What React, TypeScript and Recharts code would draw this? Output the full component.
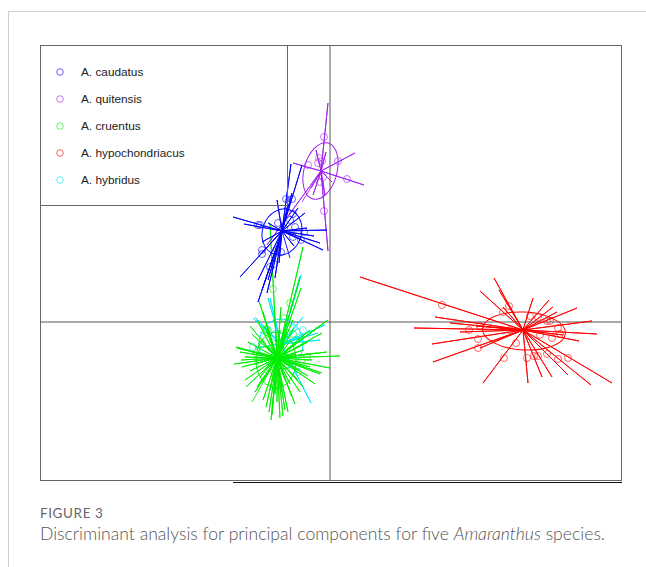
import { ReferenceLine, Scatter, ScatterChart, XAxis, YAxis } from "recharts"

type Pt = [number, number]

// plot window, in discriminant-function units
const X_MIN = -29
const X_MAX = 29.1
const Y_MIN = -15.8
const Y_MAX = 27.7
const PLOT_W = 581
const PLOT_H = 435
const PX_X = PLOT_W / (X_MAX - X_MIN)
const PX_Y = PLOT_H / (Y_MAX - Y_MIN)

const species = ["A. caudatus", "A. quitensis", "A. cruentus", "A. hypochondriacus", "A. hybridus"]
const colors = ["#0000ff", "#a020f0", "#00ee00", "#ff0000", "#00e5ff"]

// group centres
const blueCentre: Pt = [-4.8, 9.1]
const purpleCentre: Pt = [-0.9, 15.1]
const greenCentre: Pt = [-5.3, -3.6]
const redCentre: Pt = [19.3, -0.8]
const cyanCentre: Pt = [-4.9, -2.2]

// ellipses: [x, y, rx, ry, angle]
const blueEllipse = [-4.8, 9.0, 1.95, 2.35, 20]
const purpleEllipse = [-0.95, 15.1, 1.65, 2.9, 15]
const greenEllipse = [-5.4, -3.8, 2.0, 2.8, 0]
const redEllipse = [19.4, -0.9, 4.15, 1.9, 3]
const cyanEllipse = [-4.9, -2.2, 2.2, 2.5, 0]

const blueRays: Pt[] = [
  [-3.9, 15.8], [-2.8, 15.7], [-9.7, 10.5], [-1.0, 7.9], [-0.3, 9.2], [-9.0, 4.5], [-6.8, 3.2],
  [-5.1, 5.9], [-7.2, 6.5], [-0.7, 7.2], [-5.3, 12.2], [-3.8, 12.9], [-7.2, 4.2], [-6.2, 4.2],
  [-5.5, 4.4], [-2.3, 9.4], [-2.5, 10.9], [-3.2, 11.4], [-6.8, 8.0], [-6.2, 9.9], [-2.8, 8.2],
  [-7.2, 2.0], [-6.3, 2.9], [-8.6, 9.8], [-1.6, 8.6], [-4.2, 11.8], [-3.6, 7.6], [-4.0, 6.4],
]
const blueDots: Pt[] = [
  [-7.2, 9.7], [-7.0, 9.7], [-3.7, 10.8], [-3.5, 9.5], [-2.6, 9.0], [-2.9, 8.2], [-3.7, 8.5],
  [-5.2, 9.9], [-6.8, 7.2], [-5.3, 7.2], [-4.9, 7.0], [-6.0, 5.5], [-5.6, 5.8], [-6.8, 6.8],
  [-4.4, 12.3], [-3.8, 12.3], [-4.6, 9.4], [-4.0, 10.2],
]

const purpleRays: Pt[] = [
  [-0.2, 21.9], [2.5, 16.9], [3.4, 13.7], [-3.7, 15.9], [-0.2, 7.1], [-6.3, 7.7], [-1.7, 12.7],
  [-0.5, 12.7], [-1.4, 17.2], [-0.4, 17.0], [-1.9, 13.4], [0.2, 14.0], [-2.8, 12.0],
]
const purpleDots: Pt[] = [
  [-0.6, 18.5], [0.8, 16.1], [1.7, 14.3], [-2.2, 15.7], [-0.6, 11.1], [-1.1, 16.4], [-0.8, 16.1],
  [-1.0, 14.0], [-1.2, 15.9], [-0.7, 14.5],
]

const greenRays: Pt[] = [
  [-2.7, 7.5], [-6.0, 9.9], [-6.7, 1.0], [-2.9, 3.4], [-0.2, 0.2], [-0.5, 0.0], [-9.3, -2.6],
  [1.0, -3.4], [0.0, -4.6], [-0.8, -5.1], [-8.8, -4.5], [-8.5, -5.8], [-7.3, -6.5], [-6.7, -7.8],
  [-5.8, -9.3], [-5.0, -9.6], [-4.5, -8.8], [-3.8, -7.5], [-2.7, -6.5], [-1.3, -3.1], [-0.8, -1.1],
  [-1.2, -0.5], [-8.5, -3.5], [-7.3, 0.2], [-5.5, 0.2], [-3.7, 0.2], [-3.0, 4.5], [-7.1, 2.1],
  [-9.4, -2.5], [-1.0, -5.2], [-7.8, -1.2], [-6.5, -0.5], [-4.3, -1.0], [-2.2, -2.0], [-8.0, -4.9],
  [-7.0, -5.5], [-6.0, -6.8], [-5.3, -8.0], [-4.8, -7.0], [-4.0, -6.2], [-3.2, -5.8], [-2.0, -4.5],
  [-1.8, -3.8], [-6.2, -2.4], [-4.6, -2.2], [-5.9, -9.8], [-5.1, -5.4], [-8.9, -3.8], [-6.9, -1.8],
  [-3.6, -0.6], [-2.5, -1.2], [-4.9, 1.5], [-6.3, -0.6], [-3.4, -3.2], [-7.5, -7.0], [-4.2, -9.0],
  [-6.4, -8.5], [-2.2, -5.4], [-9.0, -3.0], [-8.2, -2.0], [-7.6, -4.2], [-6.8, -6.0], [-5.5, -7.2],
  [-4.5, -5.8], [-3.0, -4.8], [-2.6, -2.8], [-3.9, -1.8], [-5.0, -0.8], [-6.0, -1.5], [-7.2, -3.0],
  [-8.4, -6.5], [-6.1, -9.0], [-4.7, -9.4], [-3.5, -8.2], [-1.5, -6.2], [-0.3, -3.0], [-9.6, -4.2],
  [-8.0, -0.4], [-4.4, -0.2], [-2.0, -0.8], [-6.6, -4.8], [-4.1, -3.3], [-5.8, -2.6], [-3.0, -7.0],
  [-7.8, -8.0],
]
const greenDots: Pt[] = [
  [-5.7, 3.3], [-4.0, 1.9], [-2.3, -3.5], [-2.8, -4.1], [-6.4, -0.7], [-4.6, 0.4], [-7.4, -3.1],
  [-6.3, -0.8], [-5.0, -2.0], [-3.7, -1.2], [-5.6, -5.0], [-6.8, -2.2], [-4.3, -4.4], [-5.2, -6.4],
]

const redRays: Pt[] = [
  [3.0, 4.5], [16.4, 4.4], [15.0, 3.1], [20.3, 2.4], [21.9, 2.2], [22.3, 1.5], [24.7, 1.4],
  [26.2, 0.1], [26.7, -1.2], [24.9, -1.9], [10.5, 0.5], [8.4, -0.6], [10.2, -2.2], [10.3, -4.0],
  [15.3, -6.1], [19.8, -6.1], [21.2, -5.5], [22.2, -5.5], [23.8, -5.3], [26.1, -6.3], [28.2, -6.1],
  [22.7, 1.0], [17.3, 1.5], [12.0, -0.1], [23.3, -1.3], [13.0, -1.0], [16.9, 3.2], [15.0, -2.6],
  [14.6, -0.4], [16.0, -2.0],
]
const redDots: Pt[] = [
  [11.2, 1.7], [17.9, 1.6], [17.3, 1.0], [15.0, -0.4], [13.9, -0.8], [14.8, -1.7], [14.8, -2.6],
  [17.4, -3.6], [18.6, -2.1], [19.7, -3.6], [20.4, -3.4], [20.8, -3.4], [21.7, -3.2], [22.8, -3.7],
  [23.8, -3.6], [22.2, -1.6], [23.0, -1.2], [22.0, 0.1], [21.7, 0.1], [20.0, 0.6], [20.8, 0.5],
  [22.8, -0.6], [21.0, -1.3], [18.0, -0.8],
]

const cyanRays: Pt[] = [
  [-3.0, 4.5], [-6.0, 2.4], [-0.5, -0.3], [-1.9, -8.1], [-7.5, -2.6], [-7.7, 0.4], [-1.0, -1.8],
  [-3.3, -5.1], [-2.9, 4.7], [-6.2, 2.4], [-7.5, 0.5], [-2.7, 0.5], [-3.2, -0.6], [-2.9, -1.5],
  [-1.2, -1.1], [-6.5, -4.0], [-5.6, -6.0], [-4.0, -4.2], [-7.0, -1.0],
]
const cyanDots: Pt[] = [
  [-2.7, -0.8], [-3.0, -1.5], [-3.5, -1.8], [-3.2, -5.0], [-6.2, -0.8], [-7.7, -2.5], [-4.0, -0.5],
  [-5.5, -1.2],
]

const toXY = (p: Pt) => ({ x: p[0], y: p[1] })
// centre, ray, centre, ray ... so a joint line draws a star
const star = (c: Pt, rays: Pt[]) => rays.flatMap((r) => [toXY(c), toXY(r)])

const groups = [
  { c: cyanCentre, rays: cyanRays, dots: cyanDots, ell: cyanEllipse, color: colors[4] },
  { c: greenCentre, rays: greenRays, dots: greenDots, ell: greenEllipse, color: colors[2] },
  { c: purpleCentre, rays: purpleRays, dots: purpleDots, ell: purpleEllipse, color: colors[1] },
  { c: blueCentre, rays: blueRays, dots: blueDots, ell: blueEllipse, color: colors[0] },
  { c: redCentre, rays: redRays, dots: redDots, ell: redEllipse, color: colors[3] },
]

const Nothing = () => <g />

export default function App() {
  return (
    <div style={{ position: "absolute", left: 0, top: 0, width: 646, height: 567, overflow: "hidden", background: "#fff" }}>
      <div style={{ position: "absolute", left: 8, top: 11, width: 700, height: 600, borderLeft: "1px solid #cfcfcf", borderTop: "1px solid #cfcfcf" }} />

      <div style={{ position: "absolute", left: 0, top: 0 }}>
        <ScatterChart width={646} height={500} margin={{ top: 45, left: 40, right: 25, bottom: 20 }}>
          <XAxis type="number" dataKey="x" domain={[X_MIN, X_MAX]} allowDataOverflow hide />
          <YAxis type="number" dataKey="y" domain={[Y_MIN, Y_MAX]} allowDataOverflow hide />
          <ReferenceLine x={0} stroke="#555" strokeWidth={1} />
          <ReferenceLine y={0} stroke="#555" strokeWidth={1} />
          {groups.map((g, i) => [
            <Scatter
              key={"r" + i}
              data={star(g.c, g.rays)}
              line={{ stroke: g.color, strokeWidth: 1, strokeOpacity: 0.9 }}
              lineType="joint"
              shape={Nothing}
              isAnimationActive={false}
            />,
            <Scatter
              key={"e" + i}
              data={[{ x: g.ell[0], y: g.ell[1], rx: g.ell[2], ry: g.ell[3], angle: g.ell[4] }]}
              isAnimationActive={false}
              shape={(p: any) => (
                <ellipse
                  cx={p.cx}
                  cy={p.cy}
                  rx={p.payload.rx * PX_X}
                  ry={p.payload.ry * PX_Y}
                  transform={`rotate(${p.payload.angle} ${p.cx} ${p.cy})`}
                  fill="none"
                  stroke={g.color}
                  strokeWidth={1}
                />
              )}
            />,
            <Scatter
              key={"d" + i}
              data={g.dots.map(toXY)}
              isAnimationActive={false}
              shape={(p: any) => (
                <circle cx={p.cx} cy={p.cy} r={3.5} fill="none" stroke={g.color} strokeOpacity={0.6} strokeWidth={1} />
              )}
            />,
          ])}
        </ScatterChart>
      </div>

      {/* plot frame */}
      <div style={{ position: "absolute", left: 40, top: 45, width: 580, height: 434, border: "1px solid #666" }} />
      <div style={{ position: "absolute", left: 233, top: 482, width: 389, height: 1, background: "#111" }} />

      {/* legend */}
      <div style={{ position: "absolute", left: 40, top: 45, width: 247, height: 160, borderRight: "1px solid #666", borderBottom: "1px solid #666", fontFamily: "'Liberation Sans', Arial, sans-serif", fontSize: 11.8, color: "#222" }}>
        {species.map((s, i) => (
          <div key={s} style={{ position: "absolute", left: 0, top: 19 + i * 27, height: 16, display: "flex", alignItems: "center" }}>
            <svg width={41} height={16} style={{ display: "block" }}>
              <circle cx={20} cy={8} r={3.3} fill="none" stroke={colors[i]} strokeOpacity={0.6} strokeWidth={1} />
            </svg>
            <span>{s}</span>
          </div>
        ))}
      </div>

      {/* caption */}
      <div style={{ position: "absolute", left: 40, top: 505, fontFamily: "Lato, 'Open Sans', sans-serif", fontSize: 13.5, letterSpacing: 0.6, color: "#666" }}>
        FIGURE 3
      </div>
      <div style={{ position: "absolute", left: 40, top: 523, fontFamily: "Lato, 'Open Sans', sans-serif", fontSize: 17.6, fontWeight: 300, color: "#555" }}>
        Discriminant analysis for principal components for five <i>Amaranthus</i> species.
      </div>
    </div>
  )
}
